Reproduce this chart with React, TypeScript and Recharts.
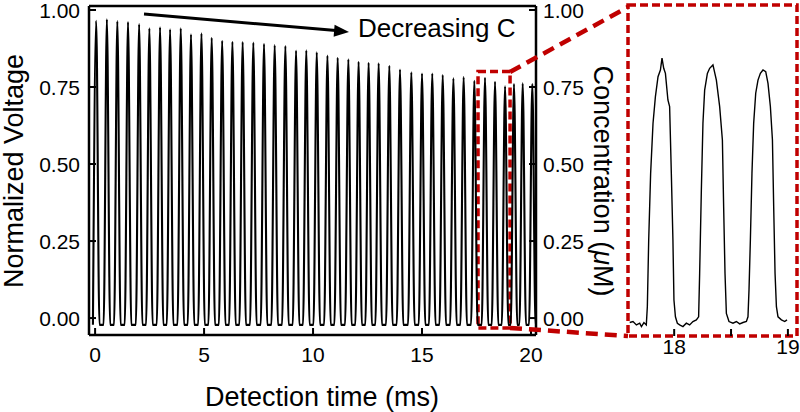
import React from "react"
import { Line, LineChart, ReferenceArea, ReferenceLine, XAxis, YAxis } from "recharts"

// main trace: peak times (ms) and peak heights
const peakTimes = [
  0.05, 0.54, 1.02, 1.51, 2.02, 2.49, 2.98, 3.44, 3.93, 4.4, 4.88, 5.35, 5.83, 6.3, 6.77,
  7.26, 7.75, 8.24, 8.73, 9.22, 9.69, 10.17, 10.66, 11.13, 11.62, 12.09, 12.55, 13.01,
  13.5, 13.99, 14.51, 15.0, 15.47, 15.95, 16.44, 16.91, 17.4, 17.89, 18.35, 18.81, 19.22,
  19.62, 20.06,
]
const peakHeights = [
  0.965, 0.97, 0.964, 0.961, 0.954, 0.941, 0.944, 0.937, 0.941, 0.921, 0.924, 0.91, 0.9,
  0.897, 0.896, 0.894, 0.89, 0.886, 0.883, 0.868, 0.869, 0.863, 0.852, 0.845, 0.84, 0.832,
  0.829, 0.827, 0.819, 0.807, 0.798, 0.794, 0.794, 0.789, 0.778, 0.782, 0.77, 0.78, 0.767,
  0.752, 0.76, 0.762, 0.76,
]
const baseline = -0.022
const peakHalfWidth = 0.15

// zoomed trace (17.6 - 19 ms)
const insetTimes = [
  17.609, 17.638, 17.668, 17.697, 17.712, 17.734, 17.755, 17.764, 17.776, 17.793, 17.814,
  17.835, 17.858, 17.879, 17.893, 17.908, 17.923, 17.945, 17.96, 17.975, 17.989, 17.998,
  18.011, 18.028, 18.048, 18.077, 18.107, 18.136, 18.165, 18.195, 18.215, 18.224, 18.239,
  18.253, 18.268, 18.292, 18.312, 18.341, 18.371, 18.4, 18.424, 18.435, 18.447, 18.459,
  18.482, 18.517, 18.547, 18.576, 18.605, 18.635, 18.649, 18.658, 18.67, 18.684, 18.699,
  18.717, 18.737, 18.758, 18.781, 18.805, 18.825, 18.846, 18.864, 18.875, 18.887, 18.899,
  18.913, 18.943, 18.972, 18.992,
]
const insetValues = [
  -0.015, -0.012, -0.022, -0.017, -0.027, -0.015, -0.022, 0.032, 0.23, 0.428, 0.577, 0.656,
  0.715, 0.735, 0.77, 0.74, 0.725, 0.646, 0.626, 0.428, 0.23, 0.052, 0.002, -0.017, -0.022,
  -0.027, -0.017, -0.022, -0.012, -0.007, 0.002, 0.131, 0.379, 0.577, 0.675, 0.725, 0.74,
  0.75, 0.705, 0.626, 0.527, 0.329, 0.131, 0.012, -0.012, -0.017, -0.012, -0.019, -0.015,
  -0.012, 0.002, 0.082, 0.23, 0.428, 0.577, 0.666, 0.705, 0.725, 0.735, 0.73, 0.695, 0.626,
  0.527, 0.329, 0.131, 0.032, 0.002, -0.007, -0.012, -0.007,
]

const xTicks = [0, 5, 10, 15, 20]
const yTicks = [0, 0.25, 0.5, 0.75, 1]
const insetXTicks = [18, 18.5, 19]
const insetYTicks = [0, 0.25, 0.5, 0.75]

const mainData: { t: number; v: number }[] = [{ t: -0.1, v: baseline }]
peakTimes.forEach((t, i) => {
  mainData.push({ t: t - peakHalfWidth, v: baseline })
  mainData.push({ t, v: peakHeights[i] })
  mainData.push({ t: t + peakHalfWidth, v: baseline })
})
mainData.push({ t: 20.22, v: baseline })

const insetData = insetTimes.map((t, i) => ({ t, v: insetValues[i] }))

const FONT = '"Liberation Sans", Arial, Helvetica, sans-serif'
const RED = "#c00000"

const LeftTick = (props: any) => {
  const { x, y, payload } = props
  return (
    <g>
      <line x1={x} x2={x + 7} y1={y} y2={y} stroke="#000" strokeWidth={2} />
      <text x={x - 9} y={y} dy="0.36em" textAnchor="end" fontSize={21} fontFamily={FONT} fill="#000">
        {payload.value.toFixed(2)}
      </text>
    </g>
  )
}

const RightTick = (props: any) => {
  const { x, y, payload } = props
  return (
    <g>
      <line x1={x - 7} x2={x} y1={y} y2={y} stroke="#000" strokeWidth={2} />
      <text x={x + 7} y={y} dy="0.36em" textAnchor="start" fontSize={21} fontFamily={FONT} fill="#000">
        {payload.value.toFixed(2)}
      </text>
    </g>
  )
}

const BottomTick = (props: any) => {
  const { x, y, payload } = props
  return (
    <g>
      <line x1={x} x2={x} y1={y} y2={y - 7} stroke="#000" strokeWidth={2} />
      <text x={x} y={y + 27} textAnchor="middle" fontSize={21} fontFamily={FONT} fill="#000">
        {payload.value}
      </text>
    </g>
  )
}

const InsetLeftTick = (props: any) => {
  const { x, y } = props
  return <line x1={x} x2={x + 7} y1={y} y2={y} stroke="#000" strokeWidth={2} />
}

const InsetBottomTick = (props: any) => {
  const { x, y, payload } = props
  return (
    <g>
      <line x1={x} x2={x} y1={y} y2={y - 7} stroke="#000" strokeWidth={2} />
      {Number.isInteger(payload.value) && (
        <text x={x} y={y + 18} textAnchor="middle" fontSize={21} fontFamily={FONT} fill="#000">
          {payload.value}
        </text>
      )}
    </g>
  )
}

export default function App() {
  return (
    <div style={{ position: "absolute", left: 0, top: 0, width: 800, height: 412, background: "#fff" }}>
      <div style={{ position: "absolute", left: 0, top: 0 }}>
        <LineChart width={800} height={412} data={mainData} margin={{ top: 6, right: 204, bottom: 37, left: 29 }}>
          <XAxis
            dataKey="t"
            type="number"
            domain={[-0.28, 20.23]}
            ticks={xTicks}
            allowDataOverflow
            height={40}
            tickSize={0}
            tickMargin={0}
            tickLine={false}
            tick={<BottomTick />}
            axisLine={{ stroke: "#000", strokeWidth: 2.5 }}
          />
          <YAxis
            yAxisId="left"
            type="number"
            domain={[-0.055, 1.013]}
            ticks={yTicks}
            allowDataOverflow
            width={60}
            tickSize={0}
            tickMargin={0}
            tickLine={false}
            tick={<LeftTick />}
            axisLine={{ stroke: "#000", strokeWidth: 2.5 }}
          />
          <YAxis
            yAxisId="right"
            orientation="right"
            type="number"
            domain={[-0.055, 1.013]}
            ticks={yTicks}
            allowDataOverflow
            width={60}
            tickSize={0}
            tickMargin={0}
            tickLine={false}
            tick={<RightTick />}
            axisLine={{ stroke: "#000", strokeWidth: 2.5 }}
          />
          <ReferenceLine yAxisId="left" y={1.013} stroke="#000" strokeWidth={2.5} />
          <Line
            yAxisId="left"
            type="monotone"
            dataKey="v"
            stroke="#000"
            strokeWidth={2.1}
            dot={false}
            isAnimationActive={false}
          />
          <Line
            yAxisId="right"
            type="monotone"
            dataKey="v"
            stroke="none"
            dot={false}
            isAnimationActive={false}
          />
          <ReferenceArea
            yAxisId="left"
            x1={17.57}
            x2={19.04}
            y1={-0.032}
            y2={0.8}
            fill="none"
            fillOpacity={0}
            stroke={RED}
            strokeWidth={3.5}
            strokeDasharray="8 4"
          />
        </LineChart>
      </div>

      <div style={{ position: "absolute", left: 0, top: 0 }}>
        <LineChart width={800} height={412} data={insetData} margin={{ top: 5, right: 3, bottom: 46, left: 628 }}>
          <XAxis
            dataKey="t"
            type="number"
            domain={[17.594, 19.08]}
            ticks={insetXTicks}
            allowDataOverflow
            height={30}
            tickSize={0}
            tickMargin={0}
            tickLine={false}
            axisLine={false}
            tick={<InsetBottomTick />}
          />
          <YAxis
            type="number"
            domain={[-0.055, 0.928]}
            ticks={insetYTicks}
            allowDataOverflow
            width={0}
            tickSize={0}
            tickMargin={0}
            tickLine={false}
            axisLine={false}
            tick={<InsetLeftTick />}
          />
          <Line type="linear" dataKey="v" stroke="#000" strokeWidth={1.4} dot={false} isAnimationActive={false} />
          <ReferenceArea
            x1={17.594}
            x2={19.08}
            y1={-0.055}
            y2={0.928}
            fill="none"
            fillOpacity={0}
            stroke={RED}
            strokeWidth={3.5}
            strokeDasharray="8 4"
          />
        </LineChart>
      </div>

      <svg
        width={800}
        height={412}
        style={{ position: "absolute", left: 0, top: 0, pointerEvents: "none" }}
        fontFamily={FONT}
      >
        <line x1={510} y1={72} x2={628} y2={7} stroke={RED} strokeWidth={4.5} strokeDasharray="12 7" />
        <line x1={510} y1={328} x2={628} y2={336} stroke={RED} strokeWidth={4.5} strokeDasharray="12 7" />

        <line x1={144} y1={14} x2={336} y2={30.6} stroke="#000" strokeWidth={3} />
        <polygon points="349,32 334.6,24.7 333.6,36.7" fill="#000" />
        <text x={358} y={37} fontSize={26} fill="#000">
          Decreasing C
        </text>

        <text x={23} y={171} fontSize={27} fill="#000" textAnchor="middle" transform="rotate(-90 23 171)">
          Normalized Voltage
        </text>
        <text x={322} y={406} fontSize={27} fill="#000" textAnchor="middle">
          Detection time (ms)
        </text>
        <text x={594} y={181} fontSize={27} fill="#000" textAnchor="middle" transform="rotate(90 594 181)">
          Concentration (<tspan fontStyle="italic">μ</tspan>M)
        </text>
      </svg>
    </div>
  )
}
